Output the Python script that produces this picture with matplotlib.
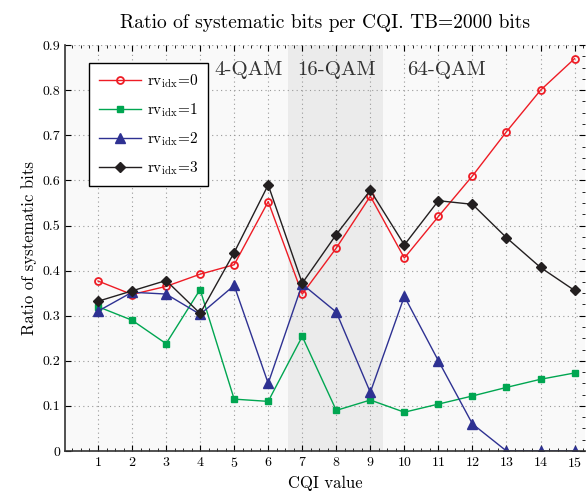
import matplotlib
matplotlib.use('Agg')
from matplotlib import pyplot as plt
from matplotlib.ticker import MultipleLocator

plt.rcParams['font.family'] = 'cmr10'
plt.rcParams['mathtext.fontset'] = 'cm'
plt.rcParams['axes.formatter.use_mathtext'] = True

cqi = [1, 2, 3, 4, 5, 6, 7, 8, 9, 10, 11, 12, 13, 14, 15]
rv0 = [0.377, 0.347, 0.365, 0.392, 0.413, 0.553, 0.348, 0.450, 0.565, 0.428, 0.520, 0.610, 0.708, 0.800, 0.870]
rv1 = [0.320, 0.290, 0.238, 0.358, 0.115, 0.110, 0.254, 0.090, 0.113, 0.086, 0.104, 0.122, 0.141, 0.159, 0.173]
rv2 = [0.310, 0.352, 0.348, 0.303, 0.367, 0.150, 0.370, 0.308, 0.130, 0.343, 0.200, 0.060, 0.0, 0.0, 0.0]
rv3 = [0.332, 0.355, 0.378, 0.305, 0.440, 0.590, 0.372, 0.480, 0.578, 0.457, 0.555, 0.547, 0.473, 0.407, 0.356]
qam_labels = ['4-QAM', '16-QAM', '64-QAM']
qam_x = [4.43, 6.84, 10.07]

fig = plt.figure(figsize=(5.88, 4.98), dpi=100)
ax = fig.add_axes([0.1105, 0.0944, 0.884, 0.815])
ax.set_facecolor('#f9f9f9')
ax.axvspan(6.58, 9.36, color='#ebebeb', lw=0, zorder=0)

ax.plot(cqi, rv0, '-o', color='#ee1c25', lw=1, ms=5, mfc='none', mew=1.3, label=r'rv$_{\mathrm{idx}}$=0')
ax.plot(cqi, rv1, '-s', color='#00a651', lw=1, ms=5, label=r'rv$_{\mathrm{idx}}$=1')
ax.plot(cqi, rv2, '-^', color='#2e3192', lw=1, ms=7, label=r'rv$_{\mathrm{idx}}$=2')
ax.plot(cqi, rv3, '-D', color='#231f20', lw=1, ms=5, label=r'rv$_{\mathrm{idx}}$=3')

for lab, xx in zip(qam_labels, qam_x):
    ax.text(xx, 0.845, lab, fontsize=15, color='#333333', va='center', ha='left')

ax.set_xlim(0.03, 15.3)
ax.set_ylim(0, 0.9)
ax.set_xticks(cqi)
ax.set_yticks([0, 0.1, 0.2, 0.3, 0.4, 0.5, 0.6, 0.7, 0.8, 0.9])
ax.set_yticklabels(['0', '0.1', '0.2', '0.3', '0.4', '0.5', '0.6', '0.7', '0.8', '0.9'])
ax.xaxis.set_minor_locator(MultipleLocator(0.25))
ax.yaxis.set_minor_locator(MultipleLocator(0.025))
ax.tick_params(which='both', direction='in', labelsize=10, top=True, right=True)
ax.tick_params(which='major', length=4)
ax.tick_params(which='minor', length=2, left=False)
ax.grid(True, which='major', ls=(0, (1, 3)), color='#999999', lw=0.8)
for s in ['top', 'right']:
    ax.spines[s].set_visible(False)
for s in ['left', 'bottom']:
    ax.spines[s].set_color('#333333')
    ax.spines[s].set_linewidth(1.2)

ax.set_xlabel('CQI value', fontsize=12)
ax.set_ylabel('Ratio of systematic bits', fontsize=12)
ax.set_title('Ratio of systematic bits per CQI. TB=2000 bits', fontsize=14, pad=12)

leg = ax.legend(loc='upper left', bbox_to_anchor=(0.047, 0.955), fontsize=11, fancybox=False,
                framealpha=1, edgecolor='black', handlelength=2.8, handletextpad=0.4,
                labelspacing=0.75, borderpad=0.6, borderaxespad=0)
leg.get_frame().set_linewidth(1)

fig.savefig('out.png', dpi=100)
